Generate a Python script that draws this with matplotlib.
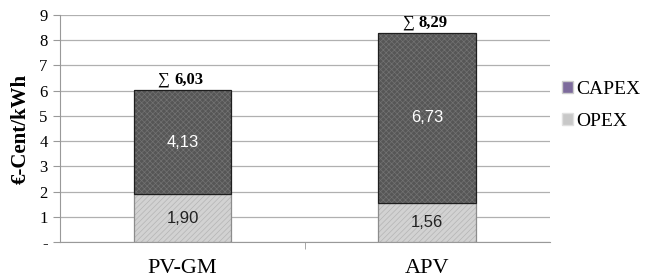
import matplotlib
matplotlib.use("Agg")
import matplotlib.pyplot as plt
from matplotlib.patches import Patch
import numpy as np

categories = ["PV-GM", "APV"]
opex = [1.90, 1.56]
capex = [4.13, 6.73]
opex_labels = ["1,90", "1,56"]
capex_labels = ["4,13", "6,73"]
total_labels = ["6,03", "8,29"]
yticks = [0, 1, 2, 3, 4, 5, 6, 7, 8, 9]
ytick_labels = ["-", "1", "2", "3", "4", "5", "6", "7", "8", "9"]

plt.rcParams['hatch.linewidth'] = 0.5
fig = plt.figure(figsize=(6.46, 2.78), dpi=100)
ax = fig.add_axes([0.093, 0.129, 0.758, 0.817])

x = np.arange(len(categories))
w = 0.4
# fills with hatch
ax.bar(x, opex, w, color="#d2d2d2", edgecolor="#b4b4b4", linewidth=0, hatch="//////", zorder=3)
ax.bar(x, capex, w, bottom=opex, color="#565656", edgecolor="#727272", linewidth=0, hatch="xxxxxx", zorder=3)
# outlines
ax.bar(x, opex, w, fill=False, edgecolor="#8c8c8c", linewidth=0.9, zorder=4)
ax.bar(x, capex, w, bottom=opex, fill=False, edgecolor="#1e1e1e", linewidth=0.9, zorder=4)

for i in range(len(categories)):
    ax.text(x[i], opex[i] / 2, opex_labels[i], ha="center", va="center",
            fontsize=12, color="#222222", family="Liberation Sans", zorder=5)
    ax.text(x[i], opex[i] + capex[i] / 2, capex_labels[i], ha="center", va="center",
            fontsize=12, color="white", family="Liberation Sans", zorder=5)
    tot = opex[i] + capex[i]
    ax.text(x[i] - 0.08, tot + 0.1, "∑", ha="center", va="bottom", fontsize=12,
            family=["Liberation Serif", "DejaVu Serif"], zorder=5)
    ax.text(x[i] + 0.025, tot + 0.1, total_labels[i], ha="center", va="bottom", fontsize=12,
            fontweight="bold", family="Liberation Serif", zorder=5)

ax.set_xlim(-0.5, 1.5)
ax.set_ylim(0, 9)
ax.set_yticks(yticks)
ax.set_yticklabels(ytick_labels, family="Liberation Serif", fontsize=12)
ax.set_xticks(x)
ax.set_xticklabels(categories, family="Liberation Serif", fontsize=16)
ax.tick_params(axis="x", length=0, pad=12)
ax.tick_params(axis="y", length=5, color="#999999", pad=4)
ax.set_ylabel("€-Cent/kWh", family="Liberation Serif", fontweight="bold", fontsize=15, labelpad=6)

ax.grid(axis="y", color="#b0b0b0", linewidth=0.9, zorder=0)
for s in ["top", "right"]:
    ax.spines[s].set_visible(False)
ax.spines["left"].set_color("#999999")
ax.spines["bottom"].set_color("#999999")
ax.set_xticks([0.5], minor=True)
ax.tick_params(axis="x", which="minor", length=5, color="#999999")

handles = [Patch(facecolor="#7d6b9c", edgecolor="#cccccc"),
           Patch(facecolor="#c8c8c8", edgecolor="#e0e0e0")]
leg = fig.legend(handles, ["CAPEX", "OPEX"], loc="upper left", bbox_to_anchor=(0.870, 0.708),
                 frameon=False, prop={"family": "Liberation Serif", "size": 14},
                 handlelength=0.55, handleheight=0.55, handletextpad=0.2, labelspacing=0.75,
                 borderaxespad=0, borderpad=0)

fig.savefig("out.png", dpi=100)
